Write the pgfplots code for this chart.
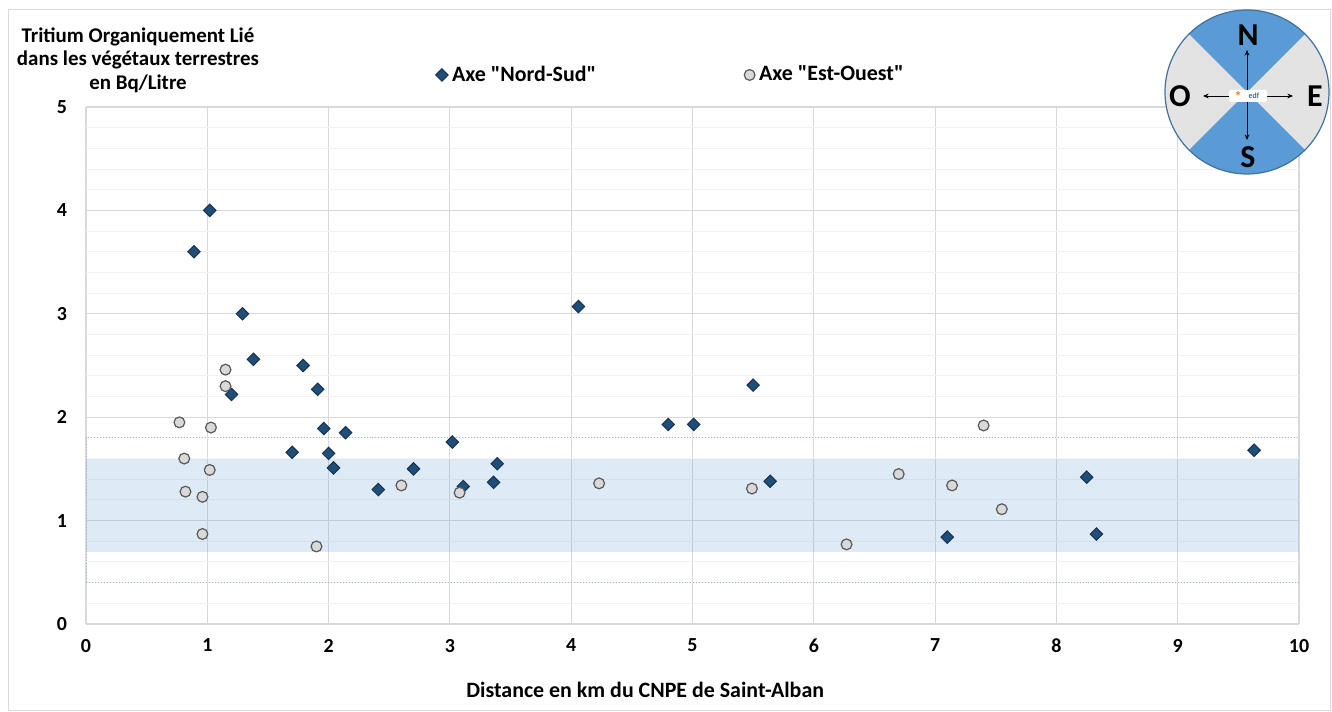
\documentclass[border=0pt]{standalone}
\usepackage{pgfplots}
\pgfplotsset{compat=1.18}
\usepackage{fontspec}
\setmainfont{Carlito}[Ligatures=TeXOff]
\usetikzlibrary{arrows.meta}

\definecolor{nsblue}{HTML}{1F4E79}
\definecolor{nsdark}{HTML}{1A3350}
\definecolor{eogray}{HTML}{D9D9D9}
\definecolor{eoedge}{HTML}{595959}
\definecolor{bandblue}{HTML}{5B9BD5}
\definecolor{gridmaj}{HTML}{D9D9D9}
\definecolor{gridmin}{HTML}{F2F2F2}
\definecolor{compblue}{HTML}{5B9BD5}
\definecolor{compgray}{HTML}{E3E3E3}
\definecolor{compedge}{HTML}{41719C}
\definecolor{dashblue}{HTML}{9DB4E0}
\definecolor{edforange}{HTML}{F07D1A}
\definecolor{edfblue}{HTML}{10367A}

\begin{document}
\begin{tikzpicture}
\path[use as bounding box] (0,0) rectangle (666bp,356bp);
\draw[gridmaj, line width=0.5bp] (4bp,1bp) rectangle (665bp,351bp);

\begin{axis}[
  at={(43bp,44bp)}, anchor=south west,
  scale only axis, width=606.5bp, height=258.5bp,
  xmin=0, xmax=10, ymin=0, ymax=5,
  xtick={0,...,10}, ytick={0,...,5},
  minor y tick num=4,
  grid=both,
  major grid style={gridmaj, line width=0.55bp},
  minor grid style={gridmin, line width=0.5bp},
  axis line style={draw=none},
  major tick length=0pt, minor tick length=0pt,
  tick label style={font=\bfseries\fontsize{10}{12}\selectfont, text=black},
  /pgf/number format/assume math mode=true,
  xticklabel style={yshift=-4bp},
  yticklabel style={xshift=-6bp},
  xlabel={Distance en km du CNPE de Saint-Alban},
  xlabel style={at={(axis description cs:0.461,0)}, anchor=center, yshift=-33bp,
    font=\bfseries\fontsize{11}{13}\selectfont},
  legend columns=2,
  legend style={draw=none, fill=none, at={(axis description cs:0.283,1.062)}, anchor=west,
    font=\bfseries\fontsize{11}{12}\selectfont,
    /tikz/every even column/.append style={column sep=72bp}},
  legend image code/.code={\draw[#1] plot coordinates {(0bp,0bp)};},
]

% Axe Nord-Sud
\addplot[only marks, mark=square*, mark size=2.2bp,
  mark options={rotate=45, fill=nsblue, draw=nsdark, line width=0.5bp}] coordinates {
  (0.89,3.60) (1.02,4.00) (1.20,2.22) (1.29,3.00) (1.38,2.56)
  (1.70,1.66) (1.79,2.50) (1.91,2.27) (1.96,1.89) (2.00,1.65)
  (2.04,1.51) (2.14,1.85) (2.41,1.30) (2.70,1.50) (3.02,1.76)
  (3.11,1.33) (3.36,1.37) (3.39,1.55) (4.06,3.07) (4.80,1.93)
  (5.01,1.93) (5.50,2.31) (5.64,1.38) (7.10,0.84) (8.25,1.42)
  (8.33,0.87) (9.63,1.68)
};
\addlegendentry{Axe "Nord-Sud"}

% Axe Est-Ouest
\addplot[only marks, mark=*, mark size=2.7bp,
  mark options={fill=eogray, draw=eoedge, line width=0.6bp}] coordinates {
  (0.77,1.95) (0.81,1.60) (0.82,1.28) (0.96,1.23) (0.96,0.87)
  (1.02,1.49) (1.03,1.90) (1.15,2.46) (1.15,2.30) (1.90,0.75)
  (2.60,1.34) (3.08,1.27) (4.23,1.36) (5.49,1.31) (6.27,0.77)
  (6.70,1.45) (7.14,1.34) (7.40,1.92) (7.55,1.11)
};
\addlegendentry{Axe "Est-Ouest"}

% bande de reference
\addplot[forget plot, draw=none, fill=bandblue, fill opacity=0.2] coordinates {
  (0,0.7) (10,0.7) (10,1.6) (0,1.6)
};
\addplot[forget plot, dashblue, densely dotted, line width=0.5bp] coordinates {
  (0,0.4) (10,0.4) (10,1.8) (0,1.8) (0,0.4)
};
\end{axis}

\node[align=center, font=\bfseries\fontsize{10.5}{11.8}\selectfont] at (69bp,326bp)
  {Tritium Organiquement Lié\\dans les végétaux terrestres\\en Bq/Litre};

% rose des vents
\begin{scope}[shift={(623.5bp,310bp)}]
  \fill[compgray] (0,0) circle (41bp);
  \fill[compblue] (0,0) -- (45:41bp) arc (45:135:41bp) -- cycle;
  \fill[compblue] (0,0) -- (225:41bp) arc (225:315:41bp) -- cycle;
  \draw[compedge, line width=0.6bp] (0,0) circle (41bp);
  \draw[-{Stealth[length=2.8bp,width=2.4bp]}, line width=0.4bp] (0,-2bp) -- (0,21bp);
  \draw[-{Stealth[length=2.8bp,width=2.4bp]}, line width=0.4bp] (0,-2bp) -- (0,-24bp);
  \draw[-{Stealth[length=2.8bp,width=2.4bp]}, line width=0.4bp] (0,-2bp) -- (-22bp,-2bp);
  \draw[-{Stealth[length=2.8bp,width=2.4bp]}, line width=0.4bp] (0,-2bp) -- (23bp,-2bp);
  \fill[white, rounded corners=1bp] (-9bp,-5bp) rectangle (10bp,1bp);
  \node[text=edforange, font=\bfseries\fontsize{7}{7}\selectfont, inner sep=0pt] at (-4.5bp,-2.3bp) {*};
  \node[text=edfblue, font=\fontsize{4}{4}\selectfont, inner sep=0pt] at (3.5bp,-2bp) {edf};
  \node[font=\bfseries\fontsize{16}{16}\selectfont] at (0.5bp,28.3bp) {N};
  \node[font=\bfseries\fontsize{16}{16}\selectfont] at (0.5bp,-32.5bp) {S};
  \node[font=\bfseries\fontsize{16}{16}\selectfont] at (-33.5bp,-2.3bp) {O};
  \node[font=\bfseries\fontsize{16}{16}\selectfont] at (34bp,-2.3bp) {E};
\end{scope}
\end{tikzpicture}
\end{document}
